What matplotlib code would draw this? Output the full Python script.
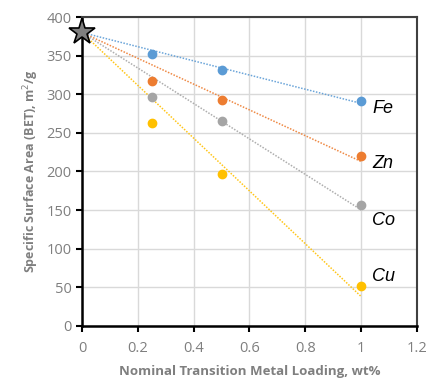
import numpy as np
import matplotlib.pyplot as plt

# Data
loading = [0.25, 0.5, 1.0]
start_x = 0.0
start_area = 380
areas = {
    "Fe": [352, 331, 291],
    "Zn": [317, 293, 220],
    "Co": [296, 265, 157],
    "Cu": [263, 197, 52],
}
colors = {"Fe": "#5B9BD5", "Zn": "#ED7D31", "Co": "#A5A5A5", "Cu": "#FFC000"}
label_y = {"Fe": 282, "Zn": 211, "Co": 137, "Cu": 64}

plt.rcParams['font.family'] = ['Open Sans', 'DejaVu Sans']

fig = plt.figure(figsize=(4.29, 3.79), dpi=100)
ax = fig.add_axes([0.191, 0.140, 0.781, 0.815])

x = np.array(loading)
for name, vals in areas.items():
    y = np.array(vals)
    # trendline with fixed intercept at the parent material
    slope = np.sum(x * (y - start_area)) / np.sum(x**2)
    xs = np.array([start_x, 1.0])
    ax.plot(xs, start_area + slope * xs, linestyle=(0, (1, 1)), lw=1.1,
            color=colors[name], alpha=0.9, zorder=2)
    ax.plot(x, y, 'o', ms=6, color=colors[name], zorder=3)
    ax.text(1.04, label_y[name], name, fontsize=13, style='italic',
            family='Liberation Sans', va='center', ha='left')

ax.plot([start_x], [start_area], marker='*', ms=20, mfc='#7f7f7f',
        mec='black', mew=1.2, zorder=5, clip_on=False)

ax.set_xlim(0, 1.2)
ax.set_ylim(0, 400)
ax.set_xticks([0, 0.2, 0.4, 0.6, 0.8, 1, 1.2])
ax.set_xticklabels(['0', '0.2', '0.4', '0.6', '0.8', '1', '1.2'])
ax.set_yticks(range(0, 401, 50))
ax.grid(True, color='#d9d9d9', lw=1)
ax.set_axisbelow(True)

for s in ['left', 'bottom']:
    ax.spines[s].set_linewidth(1.8)
    ax.spines[s].set_color('black')
for s in ['top', 'right']:
    ax.spines[s].set_linewidth(1.5)
    ax.spines[s].set_color('#404040')

ax.tick_params(direction='out', length=4, width=1.5, colors='black',
               labelcolor='#7f7f7f', labelsize=10.5)
ax.tick_params(axis='x', pad=7)

ax.set_xlabel('Nominal Transition Metal Loading, wt%', fontsize=9.5,
              fontweight='bold', color='#7f7f7f', labelpad=6)
ax.set_ylabel('Specific Surface Area (BET), m$^2$/g', fontsize=9,
              fontweight='bold', color='#7f7f7f', labelpad=4)

fig.savefig('out.png', dpi=100)
